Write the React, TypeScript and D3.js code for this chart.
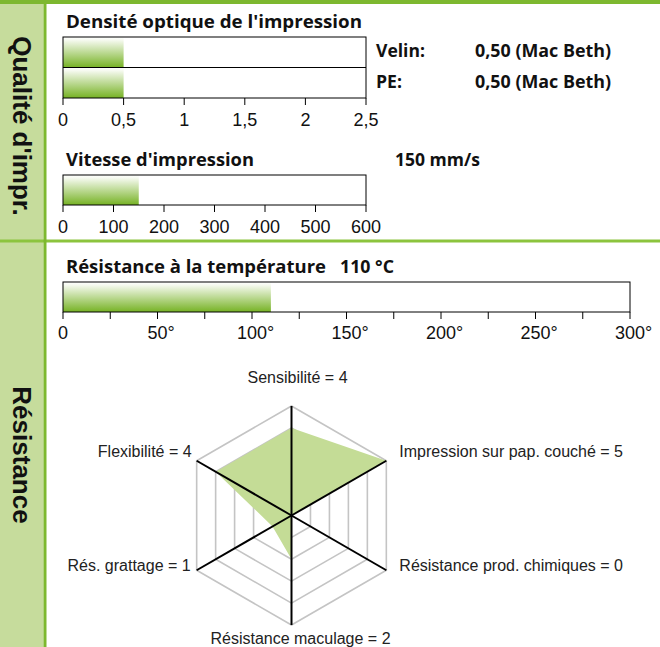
import React from 'react';
import * as d3 from 'd3';

// ---------- data ----------
const densityCategories = ['Velin:', 'PE:'];
const densityValues = [0.5, 0.5];
const densityNotes = ['0,50 (Mac Beth)', '0,50 (Mac Beth)'];
const densityTicks = [0, 0.5, 1, 1.5, 2, 2.5];
const densityTickLabels = ['0', '0,5', '1', '1,5', '2', '2,5'];

const speedValues = [150];
const speedNote = '150 mm/s';
const speedTicks = [0, 100, 200, 300, 400, 500, 600];
const speedTickLabels = ['0', '100', '200', '300', '400', '500', '600'];

const tempValues = [110];
const tempNote = '110 °C';
const tempTicks = [0, 25, 50, 75, 100, 125, 150, 175, 200, 225, 250, 275, 300];
const tempLabelTicks = [0, 50, 100, 150, 200, 250, 300];
const tempTickNumbers = ['0', '50', '100', '150', '200', '250', '300'];
const tempTickSuffix = ['', '°', '°', '°', '°', '°', '°'];

const radarAxes = [
  'Sensibilité',
  'Impression sur pap. couché',
  'Résistance prod. chimiques',
  'Résistance maculage',
  'Rés. grattage',
  'Flexibilité',
];
const radarValues = [4, 5, 0, 2, 1, 4];
const radarLevels = [1, 2, 3, 4, 5];
const radarMax = 5;

const sectionTitles = ["Qualité d'impr.", 'Résistance'];

// ---------- style ----------
const W = 660;
const H = 647;
const GREEN = '#7db82f';
const SEP = '#8cc43e';
const LIGHT = '#c6dc9c';
const FILL = '#c4dc96';
const TITLE_FONT = "'Open Sans', 'DejaVu Sans', sans-serif";
const AX_FONT = "'Liberation Sans', Arial, sans-serif";

const radarLabelPos = [
  { anchor: 'middle', dx: 6, dy: -23 },
  { anchor: 'start', dx: 13, dy: -4 },
  { anchor: 'start', dx: 13, dy: 1 },
  { anchor: 'middle', dx: 9, dy: 19 },
  { anchor: 'end', dx: -6, dy: 1 },
  { anchor: 'end', dx: -5, dy: -4 },
];

function Ticks({ scale, ticks, y }: { scale: any; ticks: number[]; y: number }) {
  return (
    <g>
      {ticks.map((t, i) => (
        <line key={i} x1={scale(t)} x2={scale(t)} y1={y} y2={y + 7} stroke="#000" strokeWidth={1} />
      ))}
    </g>
  );
}

export default function App() {
  // density
  const xD = d3.scaleLinear().domain([0, 2.5]).range([63, 366]);
  const yD = d3.scaleBand().domain(densityCategories).range([37, 98]).padding(0);
  // speed
  const xS = d3.scaleLinear().domain([0, 600]).range([63, 366]);
  const sTop = 175, sBot = 205;
  // temperature
  const xT = d3.scaleLinear().domain([0, 300]).range([63, 630]);
  const tTop = 282, tBot = 312;
  // radar
  const cx = 291.5, cy = 515.5, R = 109.5;
  const r = d3.scaleLinear().domain([0, radarMax]).range([0, R]);
  const ang = (i: number) => (i * Math.PI * 2) / radarAxes.length;
  const radial = d3
    .lineRadial<number>()
    .angle((_, i) => ang(i))
    .radius((d) => r(d))
    .curve(d3.curveLinearClosed);
  const pt = (i: number, v: number) => [
    cx + r(v) * Math.sin(ang(i)),
    cy - r(v) * Math.cos(ang(i)),
  ];
  const TICK_FS = 18;

  return (
    <svg
      width={W}
      height={H}
      style={{ position: 'absolute', left: 0, top: 0, background: '#fff' }}
      xmlns="http://www.w3.org/2000/svg"
    >
      <defs>
        <linearGradient id="barGrad" x1="0" y1="0" x2="0" y2="1">
          <stop offset="0" stopColor="#ffffff" />
          <stop offset="0.1" stopColor="#f6faf0" />
          <stop offset="1" stopColor="#76b224" />
        </linearGradient>
      </defs>
      <rect x={0} y={0} width={W} height={H} fill="#fff" />
      {/* frame */}
      <rect x={0} y={0} width={43.5} height={H} fill={LIGHT} />
      <rect x={0} y={239.5} width={W} height={3} fill={SEP} />
      <rect x={43.5} y={0} width={3} height={H} fill={GREEN} />
      <rect x={0} y={0} width={W} height={4} fill={GREEN} />

      {/* section titles */}
      <text
        transform="translate(13,126) rotate(90)"
        textAnchor="middle"
        fontFamily={AX_FONT}
        fontWeight="bold"
        fontSize={26}
        fill="#111"
      >
        {sectionTitles[0]}
      </text>
      <text
        transform="translate(13,455) rotate(90)"
        textAnchor="middle"
        fontFamily={AX_FONT}
        fontWeight="bold"
        fontSize={26}
        fill="#111"
      >
        {sectionTitles[1]}
      </text>

      {/* ---- density ---- */}
      <text x={66} y={28} fontFamily={TITLE_FONT} fontWeight="bold" fontSize={18} fill="#111" textLength={296} lengthAdjust="spacingAndGlyphs">
        Densité optique de l'impression
      </text>
      {densityCategories.map((c, i) => (
        <rect key={c} x={xD(0)} y={yD(c)} width={xD(densityValues[i]) - xD(0)} height={yD.bandwidth()} fill="url(#barGrad)" />
      ))}
      <rect x={63} y={37} width={303} height={61} fill="none" stroke="#000" strokeWidth={1} />
      <line x1={63} x2={366} y1={yD('PE:')} y2={yD('PE:')} stroke="#000" strokeWidth={1} />
      <Ticks scale={xD} ticks={densityTicks} y={98} />
      {densityTicks.map((t, i) => (
        <text key={i} x={xD(t)} y={126} textAnchor="middle" fontFamily={AX_FONT} fontSize={TICK_FS} fill="#111">
          {densityTickLabels[i]}
        </text>
      ))}
      {densityCategories.map((c, i) => (
        <g key={c}>
          <text x={376} y={(yD(c) as number) + yD.bandwidth() / 2 + 5} fontFamily={TITLE_FONT} fontWeight="bold" fontSize={17} fill="#111" textLength={i === 0 ? 49 : 26} lengthAdjust="spacingAndGlyphs">
            {c}
          </text>
          <text x={475} y={(yD(c) as number) + yD.bandwidth() / 2 + 5} fontFamily={TITLE_FONT} fontWeight="bold" fontSize={17} fill="#111" textLength={136} lengthAdjust="spacingAndGlyphs">
            {densityNotes[i]}
          </text>
        </g>
      ))}

      {/* ---- speed ---- */}
      <text x={66} y={166} fontFamily={TITLE_FONT} fontWeight="bold" fontSize={18} fill="#111" textLength={188} lengthAdjust="spacingAndGlyphs">
        Vitesse d'impression
      </text>
      <text x={395} y={166} fontFamily={TITLE_FONT} fontWeight="bold" fontSize={17} fill="#111" textLength={85} lengthAdjust="spacingAndGlyphs">
        {speedNote}
      </text>
      {speedValues.map((v, i) => (
        <rect key={i} x={xS(0)} y={sTop} width={xS(v) - xS(0)} height={sBot - sTop} fill="url(#barGrad)" />
      ))}
      <rect x={63} y={sTop} width={303} height={sBot - sTop} fill="none" stroke="#000" strokeWidth={1} />
      <Ticks scale={xS} ticks={speedTicks} y={sBot} />
      {speedTicks.map((t, i) => (
        <text key={i} x={xS(t)} y={sBot + 28} textAnchor="middle" fontFamily={AX_FONT} fontSize={TICK_FS} fill="#111">
          {speedTickLabels[i]}
        </text>
      ))}

      {/* ---- temperature ---- */}
      <text x={66} y={273} fontFamily={TITLE_FONT} fontWeight="bold" fontSize={18} fill="#111" textLength={260} lengthAdjust="spacingAndGlyphs">
        Résistance à la température
      </text>
      <text x={340} y={273} fontFamily={TITLE_FONT} fontWeight="bold" fontSize={17} fill="#111" textLength={54} lengthAdjust="spacingAndGlyphs">
        {tempNote}
      </text>
      {tempValues.map((v, i) => (
        <rect key={i} x={xT(0)} y={tTop} width={xT(v) - xT(0)} height={tBot - tTop} fill="url(#barGrad)" />
      ))}
      <rect x={63} y={tTop} width={567} height={tBot - tTop} fill="none" stroke="#000" strokeWidth={1} />
      <Ticks scale={xT} ticks={tempTicks} y={tBot} />
      {tempLabelTicks.map((t, i) => (
        <g key={i}>
          <text x={xT(t)} y={tBot + 27} textAnchor="middle" fontFamily={AX_FONT} fontSize={TICK_FS} fill="#111">
            {tempTickNumbers[i]}
          </text>
          <text x={xT(t) + tempTickNumbers[i].length * 5} y={tBot + 27} fontFamily={AX_FONT} fontSize={TICK_FS} fill="#111">
            {tempTickSuffix[i]}
          </text>
        </g>
      ))}

      {/* ---- radar ---- */}
      <g transform={`translate(${cx},${cy})`}>
        {radarLevels.map((l) => (
          <path key={l} d={radial(radarAxes.map(() => l)) as string} fill="none" stroke="#c4c4c4" strokeWidth={1.6} />
        ))}
        <path d={radial(radarValues) as string} fill={FILL} stroke="none" />
      </g>
      {radarAxes.map((a, i) => {
        const [x, y] = pt(i, radarMax);
        return <line key={a} x1={cx} y1={cy} x2={x} y2={y} stroke="#000" strokeWidth={2} />;
      })}
      {radarAxes.map((a, i) => {
        const [x, y] = pt(i, radarMax);
        const p = radarLabelPos[i];
        return (
          <text key={a} x={x + p.dx} y={y + p.dy} textAnchor={p.anchor as any} fontFamily={AX_FONT} fontSize={16} fill="#222">
            {`${a} = ${radarValues[i]}`}
          </text>
        );
      })}
    </svg>
  );
}
